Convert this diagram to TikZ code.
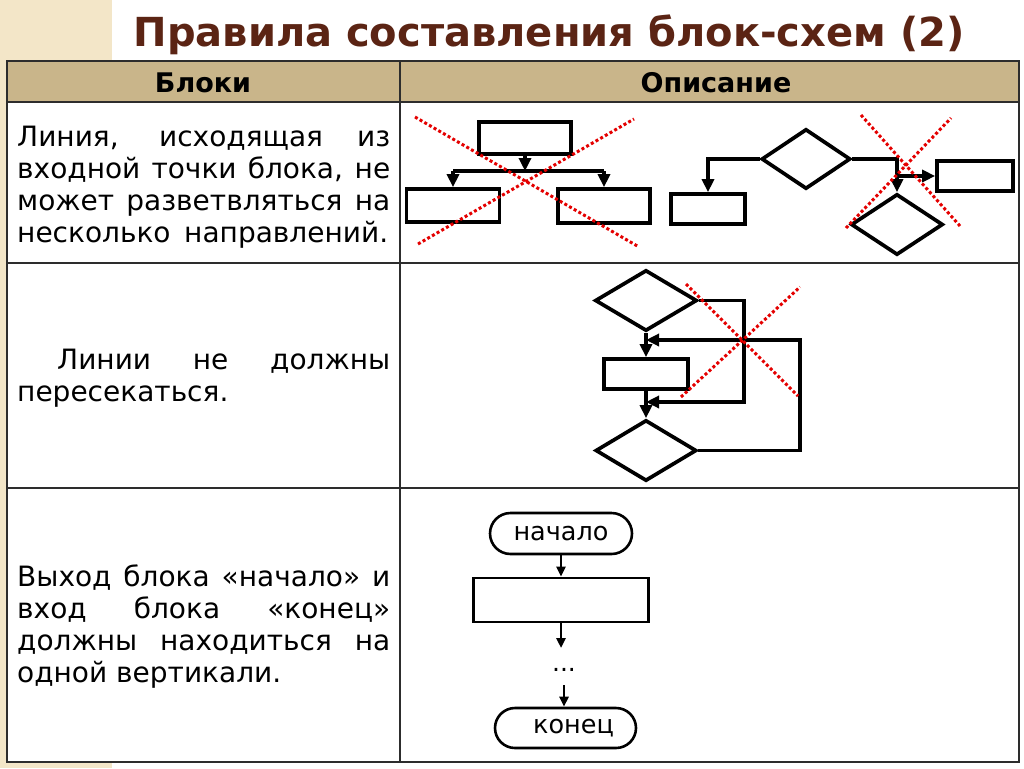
\documentclass[tikz,border=0pt]{standalone}
\usepackage{fontspec}
\setmainfont{DejaVu Sans}
\usetikzlibrary{arrows.meta,shapes.geometric,shapes.misc}
\definecolor{titlec}{RGB}{91,36,20}
\definecolor{headc}{RGB}{201,181,138}
\definecolor{panelc}{RGB}{243,230,200}
\definecolor{gridc}{RGB}{45,45,45}
\definecolor{crossc}{RGB}{228,0,0}
\newcommand\bodyfs{\fontsize{28}{32}\selectfont}
\tikzset{
  txt/.style={anchor=base west, inner sep=0, font=\bodyfs},
  blk/.style={draw, line width=3.7, rectangle, inner sep=0},
  dia/.style={draw, line width=3.7, diamond, inner sep=0},
  term/.style={draw, line width=2.6, rounded rectangle, inner sep=0, font=\fontsize{25.5}{28}\selectfont},
  fl/.style={line width=3.7, -{Triangle[length=13,width=12]}},
  fln/.style={line width=3.7},
  fl3/.style={line width=2.6, -{Triangle[length=10,width=9]}},
  xline/.style={crossc, line width=3, dash pattern=on 3 off 2.4},
  grid/.style={gridc, line width=2}
}
\begin{document}
\begin{tikzpicture}[x=1pt,y=-1pt]
\useasboundingbox (0,0) rectangle (1024,768);
\fill[white] (0,0) rectangle (1024,768);
\fill[panelc] (0,0) rectangle (112,768);
% title
\node[anchor=base, inner sep=0, text=titlec, font=\bfseries\fontsize{40}{44}\selectfont] (title) at (549,46) {Правила составления блок-схем (2)};
% table
\fill[white] (7,61) rectangle (1019,762);
\fill[headc] (7,61) rectangle (1019,102);
\draw[grid] (7,61) rectangle (1019,762);
\draw[grid] (7,102) -- (1019,102);
\draw[grid] (7,263) -- (1019,263);
\draw[grid] (7,488) -- (1019,488);
\draw[grid] (400,61) -- (400,762);
\node[anchor=base, inner sep=0, font=\bfseries\fontsize{27}{30}\selectfont] (h1) at (203,92) {Блоки};
\node[anchor=base, inner sep=0, font=\bfseries\fontsize{27}{30}\selectfont] (h2) at (716,92) {Описание};
% row 1 text
\node[txt] (a1) at (17,146.5) {\makebox[373pt][s]{Линия, исходящая из}};
\node[txt] (a2) at (17,178.5) {\makebox[373pt][s]{входной точки блока, не}};
\node[txt] (a3) at (17,210.5) {\makebox[373pt][s]{может разветвляться на}};
\node[txt] (a4) at (17,242.5) {\makebox[371pt][s]{несколько направлений.}};
% row 2 text
\node[txt] (b1) at (57,369.5) {\makebox[333pt][s]{Линии не должны}};
\node[txt] (b2) at (17,401.5) {пересекаться.};
% row 3 text
\node[txt] (c1) at (17,586.5) {\makebox[373pt][s]{Выход блока «начало» и}};
\node[txt] (c2) at (17,618.5) {\makebox[373pt][s]{вход блока «конец»}};
\node[txt] (c3) at (17,650.5) {\makebox[373pt][s]{должны находиться на}};
\node[txt] (c4) at (17,682.5) {одной вертикали.};

% ---- row 1, left diagram
\node[blk, minimum width=92, minimum height=32] (r1top) at (525,138) {};
\node[blk, minimum width=93, minimum height=33] (r1l) at (453,205.5) {};
\node[blk, minimum width=92, minimum height=34] (r1r) at (604,206) {};
\coordinate (j1) at (525,171);
\draw[fl] (r1top.south) -- (j1);
\draw[fln] (r1l.north |- j1) -- (r1r.north |- j1);
\draw[fl] (r1l.north |- j1) -- (r1l.north);
\draw[fl] (r1r.north |- j1) -- (r1r.north);
\draw[xline] (415,117) -- (639,247);
\draw[xline] (418,244) -- (634,119);

% ---- row 1, right diagram
\node[blk, minimum width=74, minimum height=30] (r1a) at (708,209) {};
\node[dia, minimum width=89, minimum height=60] (d1) at (806,159) {};
\node[blk, minimum width=76, minimum height=30] (r1b) at (975,176) {};
\node[dia, minimum width=92, minimum height=61] (d2) at (897,224.5) {};
\coordinate (j2) at (897,176);
\draw[fl] (d1.west) -| (r1a.north);
\draw[fl] (d1.east) -| (d2.north);
\draw[fl] (j2) -- (r1b.west);
\draw[xline] (861,115) -- (960,226);
\draw[xline] (846,228) -- (951,118);

% ---- row 2 diagram
\node[dia, minimum width=102, minimum height=61] (dA) at (646,300.5) {};
\node[blk, minimum width=84, minimum height=30] (rB) at (646,374) {};
\node[dia, minimum width=101, minimum height=61] (dC) at (646,450.5) {};
\coordinate (m1) at (646,340);
\coordinate (m2) at (646,402);
\draw[fl] (dA.south) -- (rB.north);
\draw[fl] (rB.south) -- (dC.north);
\draw[fl] (dA.east) -- (744,300.5) -- (744,402) -- (m2);
\draw[fl] (dC.east) -- (800,450.5) -- (800,340) -- (m1);
\draw[xline] (686,284) -- (798,396);
\draw[xline] (681,397) -- (800,287);

% ---- row 3 diagram
\node[term, minimum width=142, minimum height=41] (tS) at (561,533.5) {\raisebox{-2pt}{начало}};
\node[blk, line width=2.8, minimum width=175, minimum height=44] (rM) at (561,600) {};
\coordinate (c3a) at (561,648);
\coordinate (c3b) at (564,685);
\node[anchor=base, inner sep=0, font=\fontsize{25}{28}\selectfont] (dots) at (564,671) {...};
\node[term, minimum width=141, minimum height=40] (tE) at (565.5,728) {\hspace*{16pt}\raisebox{-2pt}{конец}};
\draw[fl3] (tS.south) -- (rM.north);
\draw[fl3] (rM.south) -- (c3a);
\draw[fl3] (c3b) -- (c3b |- tE.north);
\end{tikzpicture}
\end{document}
